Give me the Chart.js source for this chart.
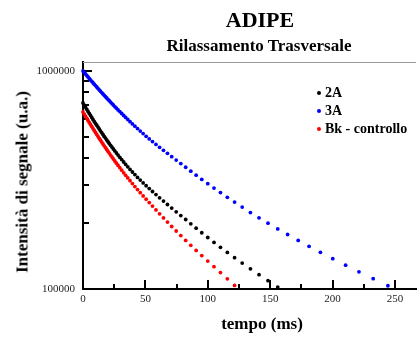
<!DOCTYPE html>
<html>
<head>
<meta charset="utf-8">
<script src="https://cdn.jsdelivr.net/npm/chart.js@4"></script>
<style>
  body { margin: 0; background: #fff; }
  #wrap { position: relative; width: 418px; height: 338px; font-family: "Liberation Serif", "DejaVu Serif", serif; color: #000; }
  #wrap canvas { position: absolute; left: 0; top: 0; }
  .txt { position: absolute; font-weight: bold; white-space: nowrap; line-height: 1; }
  .title { left: 260px; top: 9px; font-size: 22px; transform: translateX(-50%); }
  .subtitle { left: 259px; top: 37px; font-size: 17px; transform: translateX(-50%); }
  .xtitle { left: 262px; top: 315px; font-size: 17px; transform: translateX(-50%); }
  .ytitle { left: 22px; top: 182px; font-size: 17px; transform: translate(-50%, -50%) rotate(-90deg); }
  .leg { position: absolute; left: 317px; font-size: 14px; font-weight: bold; white-space: nowrap; line-height: 14px; }
  .leg i { display: inline-block; width: 4px; height: 4px; border-radius: 50%; margin-right: 4px; vertical-align: middle; position: relative; top: -1px; }
</style>
</head>
<body>
<div id="wrap">
  <canvas id="chart" width="418" height="338"></canvas>
  <div class="txt title">ADIPE</div>
  <div class="txt subtitle">Rilassamento Trasversale</div>
  <div class="txt ytitle">Intensità di segnale (u.a.)</div>
  <div class="txt xtitle">tempo (ms)</div>
  <div class="leg" style="top:86px"><i style="background:#000"></i>2A</div>
  <div class="leg" style="top:104px"><i style="background:#0000ff"></i>3A</div>
  <div class="leg" style="top:122px"><i style="background:#ff0000"></i>Bk - controllo</div>
</div>
<script>
// echo times (ms), shared by all three series
const times = [0, 1, 2, 3, 4, 5, 6, 7, 8, 9, 10, 11, 12, 13, 14, 15, 16, 17, 18, 19, 20,
  21, 22.1, 23.2, 24.3, 25.5, 26.8, 28.1, 29.5, 31.0, 32.6,
  34.2, 35.9, 37.7, 39.6, 41.6, 43.7, 45.9, 48.2, 50.6, 53.1,
  55.7, 58.5, 61.4, 64.5, 67.7, 71.1, 74.7, 78.4, 82.3, 86.4,
  90.7, 95.2, 100.0, 105.0, 110.2, 115.7, 121.5, 127.6, 134.2, 141.1,
  148.3, 156.1, 164.0, 172.5, 181.2, 190.3, 200.2, 210.5, 221.2, 232.6,
  244.4];

const signal2A = [713200, 697500, 682300, 667300, 652600, 639000, 625700, 612600, 599800, 587200,
  575600, 564100, 552900, 541900, 531200, 521200, 511300, 501200, 492300, 483000, 473900,
  465500, 456200, 447600, 438700, 430000, 420600, 411400, 401900, 392300, 382400,
  372900, 363500, 353700, 344100, 334800, 325000, 315900, 306700, 297700, 288800,
  280100, 271000, 262000, 253100, 244100, 235000, 226000, 217100, 208400, 199100,
  190100, 181200, 172300, 163600, 155300, 147200, 139200, 131500, 123800, 116300,
  109200, 102100];

const signal3A = [1000000, 984300, 968800, 953600, 939600, 924800, 910300, 896900, 883800, 869800,
  857100, 844500, 832100, 819900, 807900, 796000, 785100, 773600, 762300, 751900, 741600,
  730700, 720000, 708700, 698300, 686600, 675100, 663100, 651300, 638300, 625000,
  612600, 599100, 585400, 571900, 558200, 544200, 530000, 516200, 501700, 488100,
  474400, 460600, 446700, 432800, 419000, 404700, 390400, 376200, 361800, 347000,
  332700, 318200, 304100, 290300, 276800, 263400, 250400, 237500, 224300, 212100,
  200400, 188700, 177800, 167100, 157000, 147300, 137700, 128600, 119900, 111500,
  103500];

const signalBk = [648500, 634300, 620400, 606800, 593500, 581100, 568300, 556400, 544800, 533400,
  522800, 511900, 501700, 491200, 481500, 471900, 462500, 453800, 445300, 436400, 428200,
  420100, 411400, 403200, 394800, 386500, 377600, 369000, 360100, 350700, 341200,
  332300, 323300, 313900, 304400, 294900, 285700, 276500, 267300, 258200, 249100,
  240000, 230600, 221300, 211900, 202700, 193500, 184500, 175800, 167100, 158700,
  150300, 142300, 134300, 126600, 118900, 111400, 103800];

const xTicks = [0, 25, 50, 75, 100, 125, 150, 175, 200, 225, 250];
const yTicks = [100000, 200000, 300000, 400000, 500000, 600000, 700000, 800000, 900000, 1000000];

function toPoints(values) {
  return values.map((v, i) => ({ x: times[i], y: v }));
}

// frame line on top + tick marks pointing into the plot
const inwardTicks = {
  id: "inwardTicks",
  beforeDatasetsDraw(chart) {
    const { ctx, chartArea, scales } = chart;
    const { left, right, top, bottom } = chartArea;
    ctx.save();
    ctx.strokeStyle = "#999";
    ctx.lineWidth = 1;
    ctx.beginPath();
    ctx.moveTo(left, top + 0.5);
    ctx.lineTo(right, top + 0.5);
    ctx.stroke();

    ctx.strokeStyle = "#000";
    ctx.lineWidth = 2;
    ctx.beginPath();
    scales.x.ticks.forEach((t) => {
      if (t.value === 0) return;
      const px = Math.round(scales.x.getPixelForValue(t.value));
      const len = t.value % 50 === 0 ? 9 : 5;
      ctx.moveTo(px, bottom);
      ctx.lineTo(px, bottom - len);
    });
    scales.y.ticks.forEach((t) => {
      if (t.value === 100000) return;
      const py = Math.round(scales.y.getPixelForValue(t.value));
      const len = t.value === 1000000 ? 9 : 6;
      ctx.moveTo(left, py);
      ctx.lineTo(left + len, py);
    });
    ctx.stroke();
    ctx.restore();
  },
};

const tickFont = { family: "'Liberation Serif', serif", size: 11 };

new Chart(document.getElementById("chart"), {
  type: "scatter",
  data: {
    datasets: [
      { label: "2A", data: toPoints(signal2A), backgroundColor: "#000", borderColor: "#000" },
      { label: "3A", data: toPoints(signal3A), backgroundColor: "#0000ff", borderColor: "#0000ff" },
      { label: "Bk - controllo", data: toPoints(signalBk), backgroundColor: "#ff0000", borderColor: "#ff0000" },
    ],
  },
  options: {
    responsive: false,
    animation: false,
    layout: { padding: { top: 62, right: 0, left: 0, bottom: 0 } },
    elements: { point: { radius: 1.9, borderWidth: 0, hoverRadius: 1.9 } },
    datasets: { scatter: { clip: false } },
    plugins: { legend: { display: false }, tooltip: { enabled: false } },
    scales: {
      x: {
        type: "linear",
        min: 0,
        max: 267,
        afterBuildTicks: (s) => { s.ticks = xTicks.map((v) => ({ value: v })); },
        afterFit: (s) => { s.height = 49; },
        grid: { display: false, drawTicks: false },
        border: { display: true, color: "#000", width: 2 },
        ticks: {
          autoSkip: false,
          maxRotation: 0,
          padding: 4,
          color: "#222",
          font: tickFont,
          callback: (v) => (v % 50 === 0 ? String(v) : ""),
        },
      },
      y: {
        type: "logarithmic",
        min: 100000,
        max: 1100000,
        afterBuildTicks: (s) => { s.ticks = yTicks.map((v) => ({ value: v })); },
        afterFit: (s) => { s.width = 83; },
        grid: { display: false, drawTicks: false },
        border: { display: true, color: "#000", width: 2 },
        ticks: {
          autoSkip: false,
          padding: 8,
          color: "#222",
          font: tickFont,
          callback: (v) => (v === 100000 || v === 1000000 ? String(v) : ""),
        },
      },
    },
  },
  plugins: [inwardTicks],
});
</script>
</body>
</html>
